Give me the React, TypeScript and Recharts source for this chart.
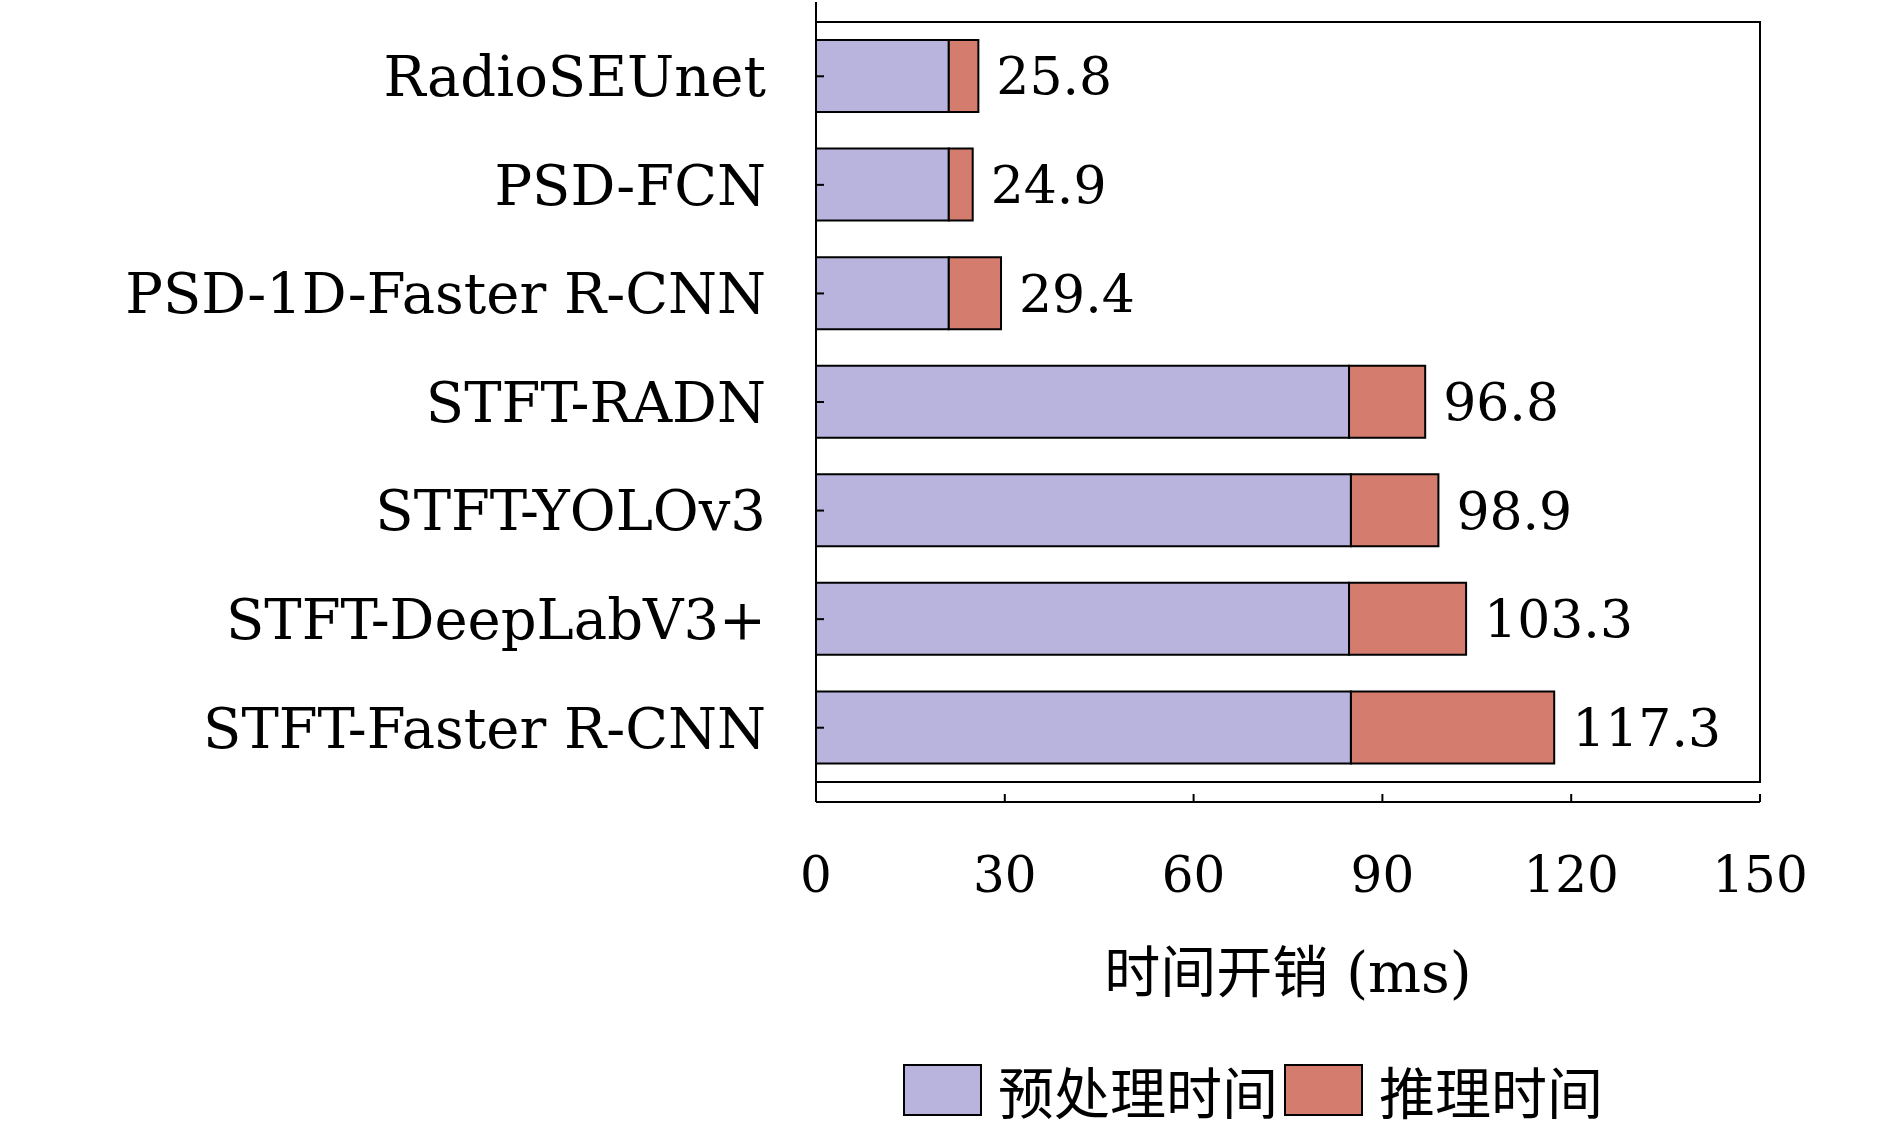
import { BarChart, Bar, XAxis, YAxis, LabelList, ReferenceArea } from "recharts";

const models = [
  "RadioSEUnet",
  "PSD-FCN",
  "PSD-1D-Faster R-CNN",
  "STFT-RADN",
  "STFT-YOLOv3",
  "STFT-DeepLabV3+",
  "STFT-Faster R-CNN",
];
const preprocess = [21.1, 21.1, 21.1, 84.7, 85.0, 84.7, 85.0];
const totals = [25.8, 24.9, 29.4, 96.8, 98.9, 103.3, 117.3];
const xTicks = [0, 30, 60, 90, 120, 150];

const data = models.map((name, i) => ({
  name,
  pre: preprocess[i],
  infer: +(totals[i] - preprocess[i]).toFixed(1),
  total: totals[i],
}));

const FONT = "'DejaVu Serif', 'Liberation Serif', serif";
const CJK = "'Noto Sans CJK SC', sans-serif";

const legendItems = [
  { label: "预处理时间", color: "#b9b4dd" },
  { label: "推理时间", color: "#d47c6e" },
];

export default function App() {
  return (
    <div style={{ position: "fixed", left: 0, top: 0, width: 1890, height: 1125, background: "#fff" }}>
      <BarChart
        width={1890}
        height={1125}
        data={data}
        layout="vertical"
        margin={{ top: 2, right: 130, left: 0, bottom: 0 }}
        barCategoryGap={0}
      >
        <XAxis
          type="number"
          domain={[0, 150]}
          ticks={xTicks}
          height={323}
          axisLine={{ stroke: "#000", strokeWidth: 2 }}
          tickLine={{ stroke: "#000", strokeWidth: 2 }}
          tickSize={-8}
          tickMargin={62}
          tick={{ fill: "#000", fontSize: 50, fontFamily: FONT }}
          label={{
            value: "时间开销 (ms)",
            position: "insideTop",
            offset: 150,
            fill: "#000",
            fontSize: 56,
            fontFamily: FONT + ", " + CJK,
          }}
        />
        <YAxis
          type="category"
          dataKey="name"
          width={816}
          padding={{ top: 20, bottom: 20 }}
          axisLine={{ stroke: "#000", strokeWidth: 2 }}
          tickLine={{ stroke: "#000", strokeWidth: 2 }}
          tickSize={-8}
          tickMargin={58}
          tick={{ fill: "#000", fontSize: 56, fontFamily: FONT }}
        />
        <ReferenceArea x1={0} x2={150} fill="none" fillOpacity={0} stroke="#000" strokeWidth={2} ifOverflow="visible" />
        <Bar dataKey="pre" stackId="a" fill="#b9b4dd" stroke="#000" strokeWidth={2} barSize={72} isAnimationActive={false} />
        <Bar dataKey="infer" stackId="a" fill="#d47c6e" stroke="#000" strokeWidth={2} barSize={72} isAnimationActive={false}>
          <LabelList
            dataKey="total"
            position="right"
            offset={18}
            fill="#000"
            fontSize={52}
            fontFamily={FONT}
          />
        </Bar>
      </BarChart>
      <div style={{ position: "absolute", left: 903, top: 1062, display: "flex", alignItems: "center", gap: 6 }}>
        {legendItems.map((it) => (
          <div key={it.label} style={{ display: "flex", alignItems: "center" }}>
            <span
              style={{
                display: "inline-block",
                width: 75,
                height: 48,
                background: it.color,
                border: "2px solid #000",
                marginRight: 16,
              }}
            />
            <span style={{ fontFamily: CJK, fontSize: 56, color: "#000", lineHeight: 1 }}>{it.label}</span>
          </div>
        ))}
      </div>
    </div>
  );
}
